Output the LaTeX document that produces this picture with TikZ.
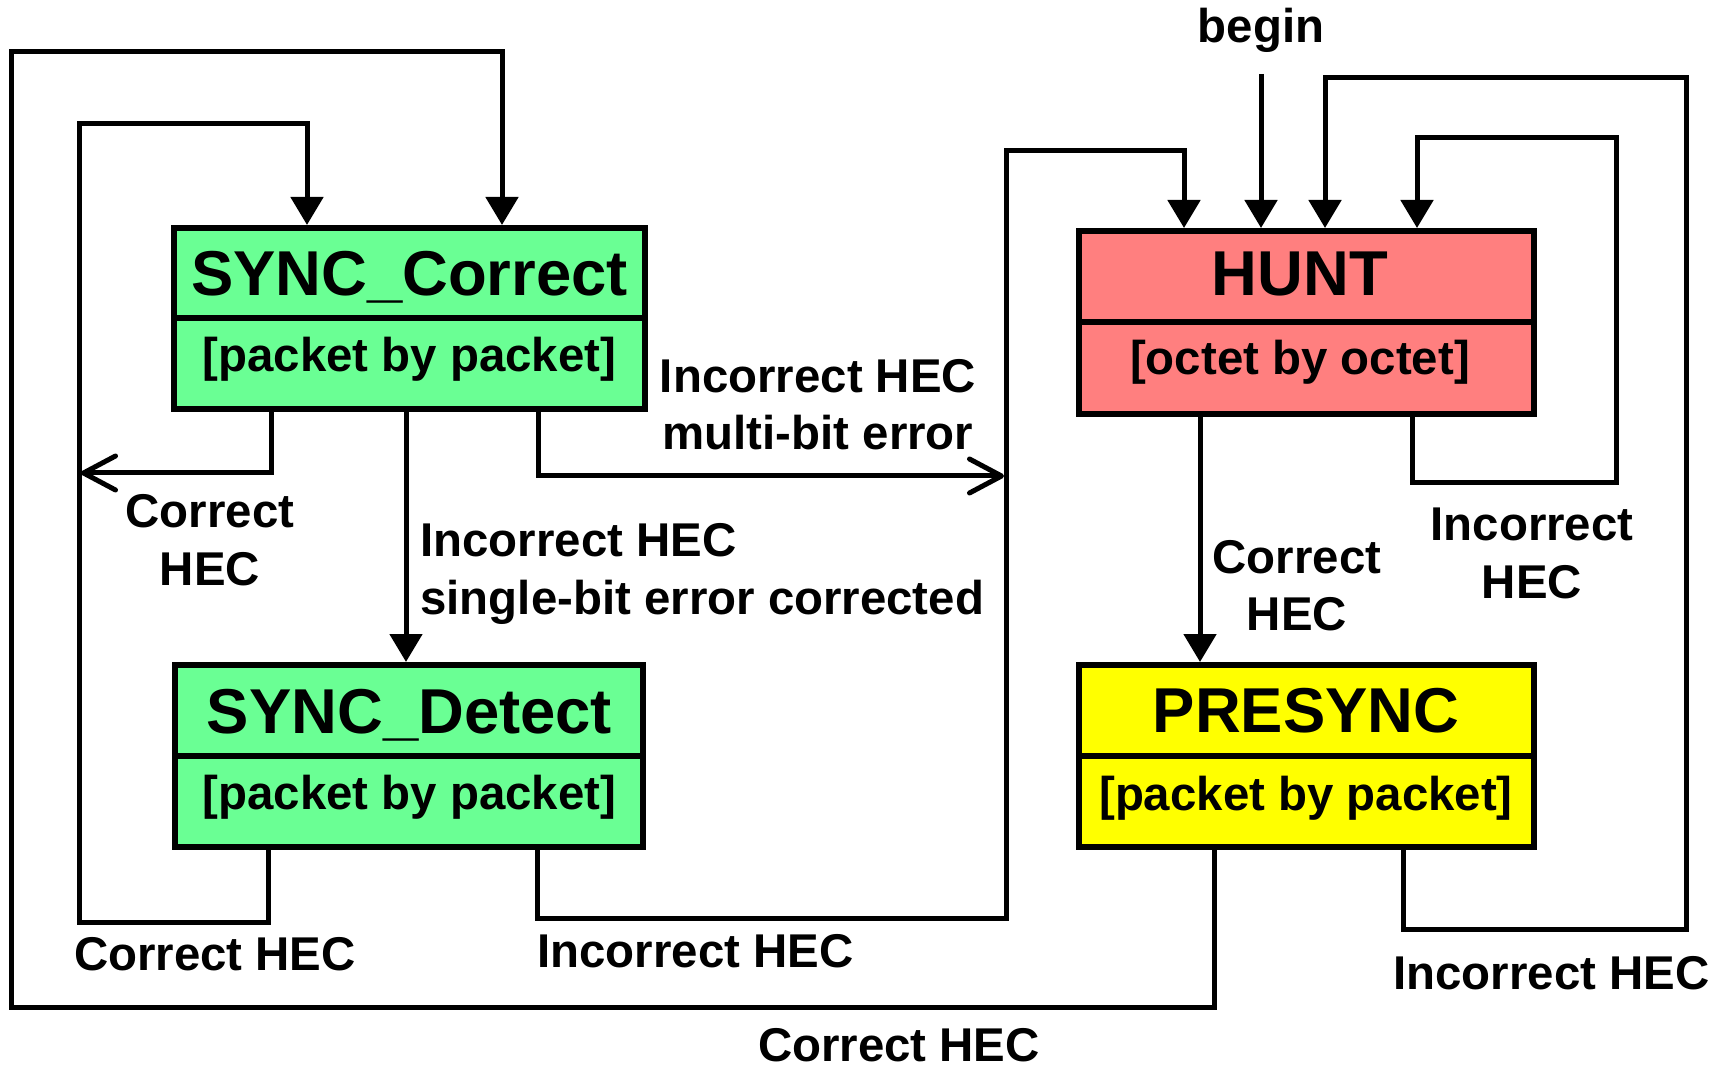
\documentclass[tikz,border=0pt]{standalone}
\usepackage{fontspec}
\setmainfont{Liberation Sans}
\usetikzlibrary{arrows.meta}
\definecolor{syncgreen}{RGB}{106,255,148}
\definecolor{huntred}{RGB}{255,127,127}
\definecolor{presyncyellow}{RGB}{255,255,0}

\begin{document}
\begin{tikzpicture}[x=0.5pt,y=-0.5pt,
  statebox/.style={draw=black, line width=3pt, rectangle, inner sep=0pt},
  titletext/.style={font=\fontsize{31.7pt}{36pt}\selectfont\bfseries, inner sep=0pt, anchor=base},
  subtext/.style={font=\fontsize{23.7pt}{28.75pt}\selectfont\bfseries, inner sep=0pt, anchor=base},
  lbl/.style={font=\fontsize{23.7pt}{28.75pt}\selectfont\bfseries, inner sep=0pt},
  flow/.style={draw=black, line width=2.5pt, -{Triangle[length=14pt,width=16pt]}},
  openflow/.style={draw=black, line width=2.5pt, -{Straight Barb[length=16pt,width=17pt,round]}},
  divider/.style={draw=black, line width=3pt}
]
\useasboundingbox (0,0) rectangle (1730,1069);

% ---- states ----
\node[statebox, fill=syncgreen, minimum width=235.5pt, minimum height=90.5pt] (sc) at (409.5,318.5) {};
\node[statebox, fill=syncgreen, minimum width=234pt, minimum height=91pt] (sd) at (409,756) {};
\node[statebox, fill=huntred, minimum width=227.5pt, minimum height=91.5pt] (hu) at (1306.5,322.5) {};
\node[statebox, fill=presyncyellow, minimum width=227.5pt, minimum height=91pt] (ps) at (1306.5,756) {};

\draw[divider] (sc.west) -- (sc.east);
\draw[divider] (sd.west) -- (sd.east);
\draw[divider] (hu.west) -- (hu.east);
\draw[divider] (ps.west) -- (ps.east);

\node[titletext] (sct) at (409.5,296) {SYNC\_Correct};
\node[subtext]   (scs) at (409.5,372) {[packet by packet]};
\node[titletext] (sdt) at (409.5,733) {SYNC\_Detect};
\node[subtext]   (sds) at (409.5,809) {[packet by packet]};
\node[titletext] (hut) at (1300,296) {HUNT};
\node[subtext]   (hus) at (1300,375) {[octet by octet]};
\node[titletext] (pst) at (1306,732) {PRESYNC};
\node[subtext]   (pss) at (1306,810) {[packet by packet]};

% ---- bend points ----
\coordinate (oa) at (1214,0);  \coordinate (ob) at (11,1007);  \coordinate (oc) at (502,52);
\coordinate (ia) at (268,0);   \coordinate (ib) at (79,922);   \coordinate (ic) at (307,124);
\coordinate (ja) at (271,0);   \coordinate (jb) at (81,473);
\coordinate (ka) at (406,0);
\coordinate (la) at (538,0);   \coordinate (lb) at (1004,476);
\coordinate (ma) at (537,0);   \coordinate (mb) at (1006,918); \coordinate (mc) at (1184,151);
\coordinate (bs) at (1261,74);
\coordinate (na) at (1403,0);  \coordinate (nb) at (1686,929); \coordinate (nc) at (1325,78);
\coordinate (pa) at (1412,0);  \coordinate (pb) at (1616,483); \coordinate (pc) at (1417,138);
\coordinate (qa) at (1200,0);

% ---- transitions ----
\draw[flow] (ps.south -| oa) |- (ob) |- (oc) -- (sc.north -| oc);
\draw[flow] (sd.south -| ia) |- (ib) |- (ic) -- (sc.north -| ic);
\draw[openflow] (sc.south -| ja) |- (jb);
\draw[flow] (sc.south -| ka) -- (sd.north -| ka);
\draw[openflow] (sc.south -| la) |- (lb);
\draw[flow] (sd.south -| ma) |- (mb) |- (mc) -- (hu.north -| mc);
\draw[flow] (bs) -- (hu.north -| bs);
\draw[flow] (ps.south -| na) |- (nb) |- (nc) -- (hu.north -| nc);
\draw[flow] (hu.south -| pa) |- (pb) |- (pc) -- (hu.north -| pc);
\draw[flow] (hu.south -| qa) -- (ps.north -| qa);

% ---- labels ----
\node[lbl, anchor=base] (begin) at (1261,43) {begin};
\node[lbl, align=center] (l1) at (818,404.5) {Incorrect HEC\\multi-bit error};
\node[lbl, align=left, anchor=west] (l2) at (420,574) {Incorrect HEC\\single-bit error corrected};
\node[lbl, align=center] (l3) at (210,540) {Correct\\HEC};
\node[lbl, anchor=base] (l4) at (215,970) {Correct HEC};
\node[lbl, anchor=base west] (l5) at (537,967) {Incorrect HEC};
\node[lbl, anchor=base] (l6) at (899,1061) {Correct HEC};
\node[lbl, align=center] (l7) at (1532,553.5) {Incorrect\\HEC};
\node[lbl, align=center] (l8) at (1297,585.5) {Correct\\HEC};
\node[lbl, anchor=base west] (l9) at (1393,989) {Incorrect HEC};
\end{tikzpicture}
\end{document}
